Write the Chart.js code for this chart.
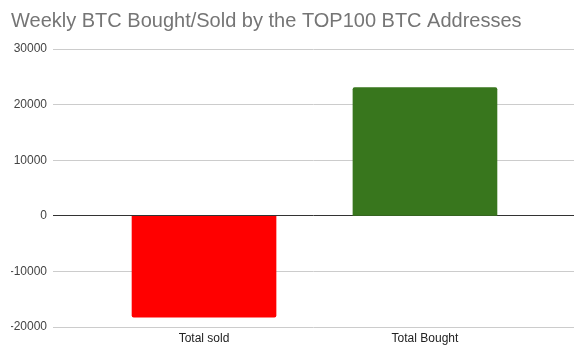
<!DOCTYPE html>
<html>
<head>
<meta charset="utf-8">
<script src="https://cdn.jsdelivr.net/npm/chart.js@4"></script>
<style>
html,body{margin:0;padding:0;background:#fff;}
#wrap{width:584px;height:356px;position:relative;}
</style>
</head>
<body>
<div id="wrap"><canvas id="c" width="584" height="356"></canvas></div>
<script>
const titleText = "Weekly BTC Bought/Sold by the TOP100 BTC Addresses";
const categories = ["Total sold", "Total Bought"];
const values = [-18250, 23050];
const barColors = ["#ff0000", "#38761d"];
const yTicks = [-20000, -10000, 0, 10000, 20000, 30000];

const FONT = "'Liberation Sans', Arial, sans-serif";

new Chart(document.getElementById('c'), {
  type: 'bar',
  data: {
    datasets: [{
      data: values.map((v, i) => ({x: i, y: v})),
      backgroundColor: barColors,
      borderWidth: 0,
      borderRadius: 2,
      barThickness: 144
    }]
  },
  options: {
    responsive: false,
    animation: false,
    devicePixelRatio: 1,
    layout: {padding: {left: 11, right: 10, top: 0, bottom: 0}},
    plugins: {
      legend: {display: false},
      tooltip: {enabled: false},
      title: {
        display: true,
        text: titleText,
        align: 'start',
        color: '#757575',
        font: {family: FONT, size: 20, weight: 'normal'},
        padding: {top: 9, bottom: 16}
      }
    },
    scales: {
      x: {
        type: 'linear',
        offset: false,
        min: -0.6835,
        max: 1.6745,
        afterBuildTicks: (s) => { s.ticks = categories.map((c, i) => ({value: i})); },
        ticks: {
          callback: (v) => categories[v] !== undefined ? categories[v] : '',
          color: '#222',
          font: {family: FONT, size: 12},
          padding: -4,
          maxRotation: 0
        },
        grid: {display: false, offset: false},
        border: {display: false},
        afterFit: (s) => { s.height = 29; }
      },
      y: {
        min: -20000,
        max: 30000,
        afterBuildTicks: (s) => { s.ticks = yTicks.map(v => ({value: v})); },
        ticks: {
          callback: (v) => String(v),
          color: '#444',
          font: {family: FONT, size: 12},
          padding: 6
        },
        grid: {
          color: (ctx) => ctx.tick && ctx.tick.value === 0 ? '#333333' : '#cccccc',
          lineWidth: 1,
          drawTicks: false
        },
        border: {display: false},
        afterFit: (s) => { s.width = 42; }
      }
    }
  }
});
</script>
</body>
</html>
